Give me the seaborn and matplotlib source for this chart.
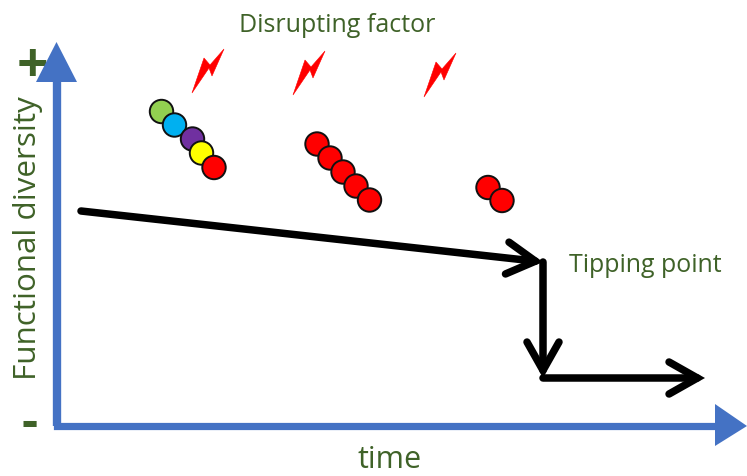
import matplotlib
matplotlib.use("Agg")
import matplotlib.pyplot as plt
import seaborn as sns
import pandas as pd

sns.set_theme(style="white")
plt.rcParams['font.family'] = ['Open Sans', 'DejaVu Sans']

W, H = 747, 477
GREEN = "#3f6228"
BLUE = "#4472c4"

# Circles (diagram position, in picture pixels)
dots_x = [161.5, 174.5, 192.5, 201.5, 214, 317, 330, 343, 356, 369.5, 488, 502]
dots_y = [112.5, 126, 140, 154, 168.5, 145, 159, 173, 187, 201, 188.5, 201.5]
dots_id = list("abcdefghijkl")
dots_colors = ["#92d050", "#00b0f0", "#7030a0", "#ffff00", "#ff0000",
               "#ff0000", "#ff0000", "#ff0000", "#ff0000", "#ff0000",
               "#ff0000", "#ff0000"]

# Trend path
trend_x = [81, 543, 543, 705]
trend_y = [212, 263, 379, 379]

# Lightning bolts: top tips
bolt_x = [224, 325, 456]
bolt_y = [50, 52, 54]
bolt_dx = [0, -12, -15, -32, -20, -14]
bolt_dy = [0, 27, 19, 44, 9, 16]

fig = plt.figure(figsize=(W / 100, H / 100), dpi=100, facecolor="white")
ax = fig.add_axes([0, 0, 1, 1])
ax.set_xlim(0, W)
ax.set_ylim(H, 0)
ax.axis("off")

# "+" and "-" lie under the axis arrows
ax.text(32, 67, "+", color=GREEN, fontsize=40, fontweight="bold", ha="center", va="center", zorder=1)
ax.text(30, 424, "-", color=GREEN, fontsize=36, fontweight="bold", ha="center", va="center", zorder=1)

# Axis arrows
ax.plot([57, 57], [427, 80], color=BLUE, lw=6, solid_capstyle="butt", zorder=2)
ax.plot([57, 718], [427, 427], color=BLUE, lw=5.2, solid_capstyle="projecting", zorder=2)
ax.fill([36, 56.5, 77], [83, 43, 83], color=BLUE, lw=0, zorder=2)
ax.fill([715, 747, 715], [405, 427, 447], color=BLUE, lw=0, zorder=2)

# Trend arrows
arrow = dict(arrowstyle="->,head_length=0.85,head_width=0.48", color="black", lw=5.4,
             mutation_scale=24, shrinkA=0, shrinkB=0, capstyle="round", joinstyle="miter")
for i in range(3):
    ax.annotate("", xy=(trend_x[i + 1], trend_y[i + 1]), xytext=(trend_x[i], trend_y[i]),
                arrowprops=arrow, zorder=3)

# Disrupting factor bolts
for bx, by in zip(bolt_x, bolt_y):
    ax.fill([bx + d for d in bolt_dx], [by + d for d in bolt_dy], color="#ff0000", lw=0.4, zorder=3)

# Species circles
df = pd.DataFrame({"x": dots_x, "y": dots_y, "id": dots_id})
sns.scatterplot(data=df, x="x", y="y", hue="id", palette=dots_colors, s=285,
                edgecolor="#111111", linewidth=1.4, legend=False, ax=ax, zorder=4)
ax.set_xlim(0, W)
ax.set_ylim(H, 0)
ax.axis("off")

# Labels
ax.text(28, 238, "Functional diversity", color=GREEN, fontsize=22.6, rotation=90, ha="center", va="center")
ax.text(390, 468, "time", color=GREEN, fontsize=22, ha="center", va="baseline")
ax.text(337, 25, "Disrupting factor", color=GREEN, fontsize=18, ha="center", va="center")
ax.text(645, 266, "Tipping point", color=GREEN, fontsize=17.9, ha="center", va="center")

fig.savefig("out.png", dpi=100)
